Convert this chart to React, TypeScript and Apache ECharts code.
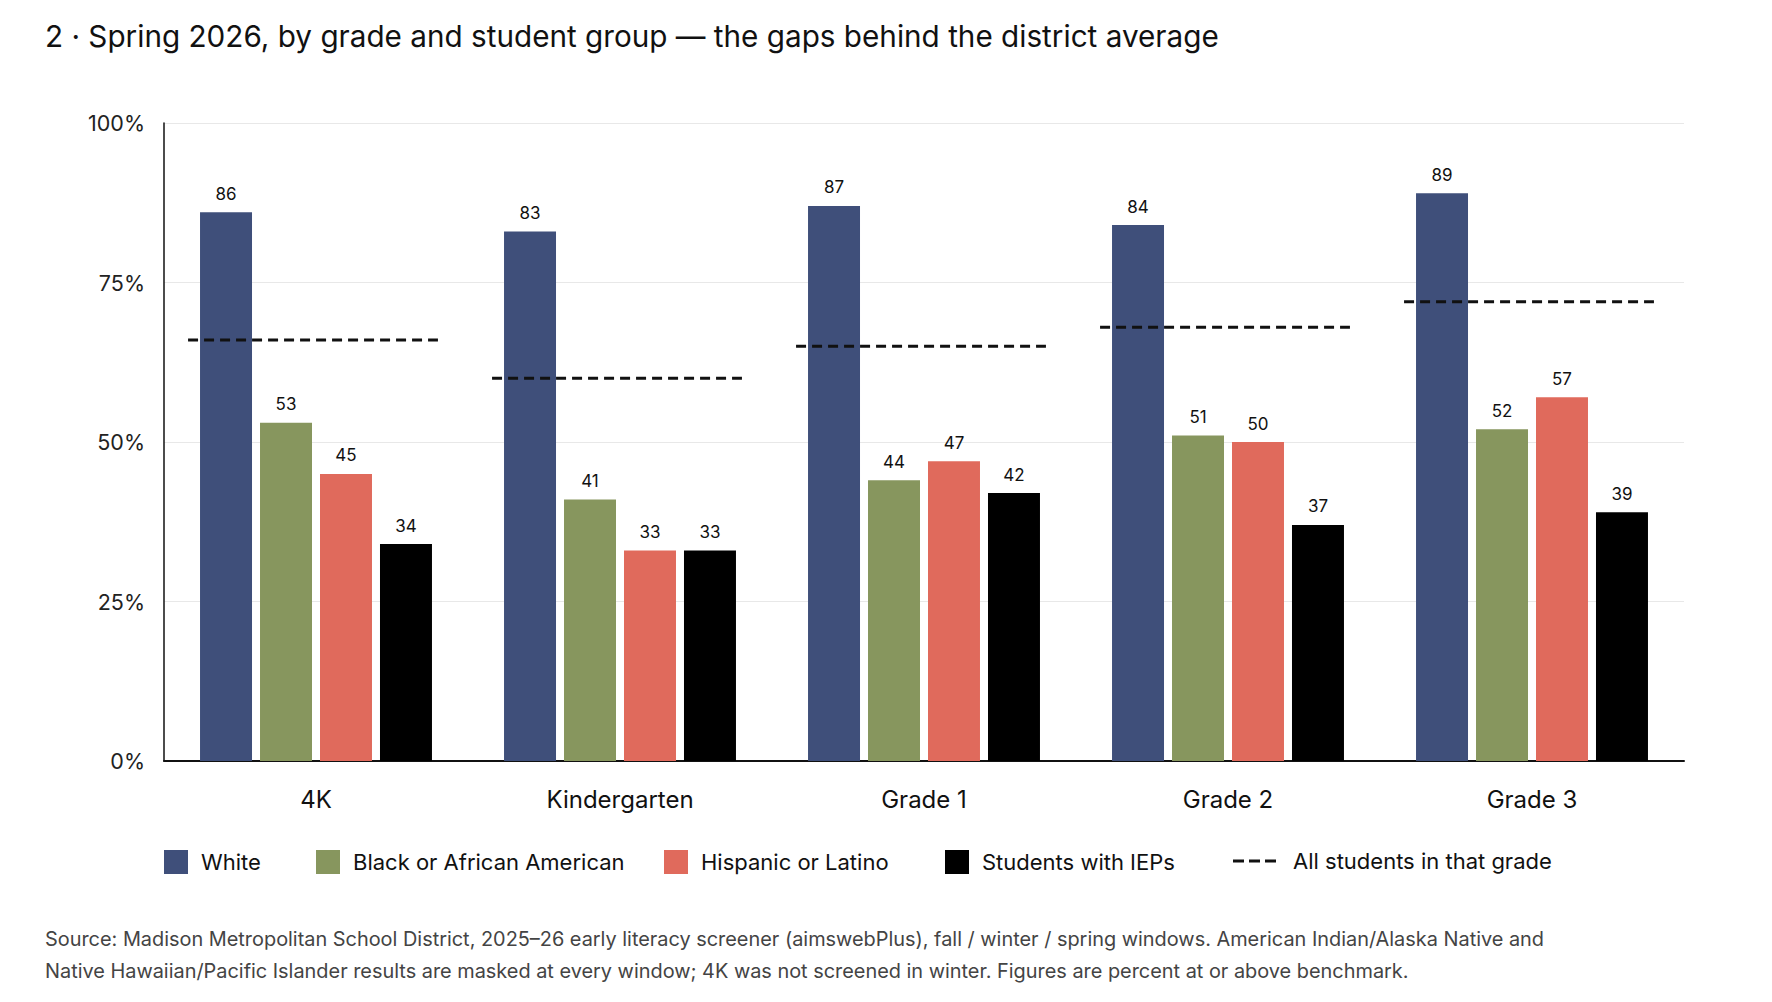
import React, { useEffect, useRef } from "react";
import * as echarts from "echarts";

const categories = ["4K", "Kindergarten", "Grade 1", "Grade 2", "Grade 3"];
const groupNames = ["White", "Black or African American", "Hispanic or Latino", "Students with IEPs"];
const white = [86, 83, 87, 84, 89];
const black = [53, 41, 44, 51, 52];
const hispanic = [45, 33, 47, 50, 57];
const iep = [34, 33, 42, 37, 39];
const allStudents = [66, 60, 65, 68, 72];
const avgName = "All students in that grade";
const yTicks = [0, 25, 50, 75, 100];

const titleText = "2 · Spring 2026, by grade and student group — the gaps behind the district average";
const footText =
  "Source: Madison Metropolitan School District, 2025–26 early literacy screener (aimswebPlus), fall / winter / spring windows. American Indian/Alaska Native and\nNative Hawaiian/Pacific Islander results are masked at every window; 4K was not screened in winter. Figures are percent at or above benchmark.";

const colors = ["#3f4f7a", "#87965e", "#e06a5c", "#000000"];
const FONT = "Inter, 'Noto Sans', sans-serif";
const legendLefts = [164, 316, 664, 945];

export default function App() {
  const ref = useRef<HTMLDivElement>(null);
  useEffect(() => {
    if (!ref.current) return;
    const chart = echarts.init(ref.current, undefined, { renderer: "svg" });
    const values = [white, black, hispanic, iep];
    const barSeries = values.map((arr, i) => ({
      type: "bar",
      name: groupNames[i],
      data: arr,
      barGap: "15.4%",
      barCategoryGap: "23.7%",
      itemStyle: { color: colors[i] },
      label: {
        show: true,
        position: "top",
        distance: 10,
        fontSize: 17,
        color: "#111",
        fontFamily: FONT,
      },
      z: 2,
    }));
    const legends: any[] = groupNames.map((n, i) => ({
      data: [n],
      left: legendLefts[i],
      top: 850,
      padding: 0,
      itemWidth: 24,
      itemHeight: 24,
      icon: "rect",
      selectedMode: false,
      textStyle: { fontSize: 22, color: "#111", fontFamily: FONT, padding: [0, 0, 0, 8] },
    }));
    legends.push({
      data: [{ name: avgName, icon: "path://M0,0h11v3h-11z M16,0h11v3h-11z M32,0h11v3h-11z" }],
      left: 1233,
      top: 850,
      padding: 0,
      itemWidth: 43,
      itemHeight: 24,
      selectedMode: false,
      textStyle: { fontSize: 22, color: "#111", fontFamily: FONT, padding: [0, 0, 0, 12] },
    });
    chart.setOption({
      animation: false,
      backgroundColor: "#ffffff",
      textStyle: { fontFamily: FONT },
      title: {
        text: titleText,
        left: 45,
        top: 21,
        padding: 0,
        textStyle: { fontSize: 29.7, fontWeight: "normal", color: "#111", fontFamily: FONT },
      },
      legend: legends,
      grid: { left: 164, right: 88, top: 123, bottom: 241, containLabel: false },
      xAxis: {
        type: "category",
        data: categories,
        axisLine: { show: true, lineStyle: { color: "#111", width: 2 } },
        axisTick: { show: false },
        axisLabel: { fontSize: 24, color: "#111", margin: 26, fontFamily: FONT },
        splitLine: { show: false },
      },
      yAxis: {
        type: "value",
        min: yTicks[0],
        max: yTicks[yTicks.length - 1],
        interval: 25,
        axisLine: { show: true, lineStyle: { color: "#111", width: 1.5 } },
        axisTick: { show: false },
        axisLabel: { formatter: "{value}%", fontSize: 21.5, color: "#222", margin: 19, fontFamily: FONT },
        splitLine: { show: true, lineStyle: { color: "#e8e8e8", width: 1 } },
      },
      series: [
        ...barSeries,
        {
          type: "custom",
          name: avgName,
          itemStyle: { color: "#111" },
          data: allStudents.map((v, i) => [i, v]),
          encode: { x: 0, y: 1 },
          z: 5,
          renderItem: (params: any, api: any) => {
            const p = api.coord([api.value(0), api.value(1)]);
            const bw = api.size([1, 0])[0];
            const half = bw * 0.411;
            return {
              type: "line",
              shape: { x1: p[0] - half - 3, y1: p[1], x2: p[0] + half - 3, y2: p[1] },
              style: { stroke: "#111", lineWidth: 3, lineDash: [10, 6] },
            };
          },
        },
      ],
      graphic: [
        {
          type: "text",
          left: 45,
          top: 923,
          style: {
            text: footText,
            fontSize: 19.9,
            lineHeight: 32,
            fill: "#444",
            fontFamily: FONT,
          },
        },
      ],
    });
    return () => chart.dispose();
  }, []);
  return (
    <div
      ref={ref}
      style={{ position: "fixed", left: 0, top: 0, width: 1772, height: 1002, background: "#fff" }}
    />
  );
}
